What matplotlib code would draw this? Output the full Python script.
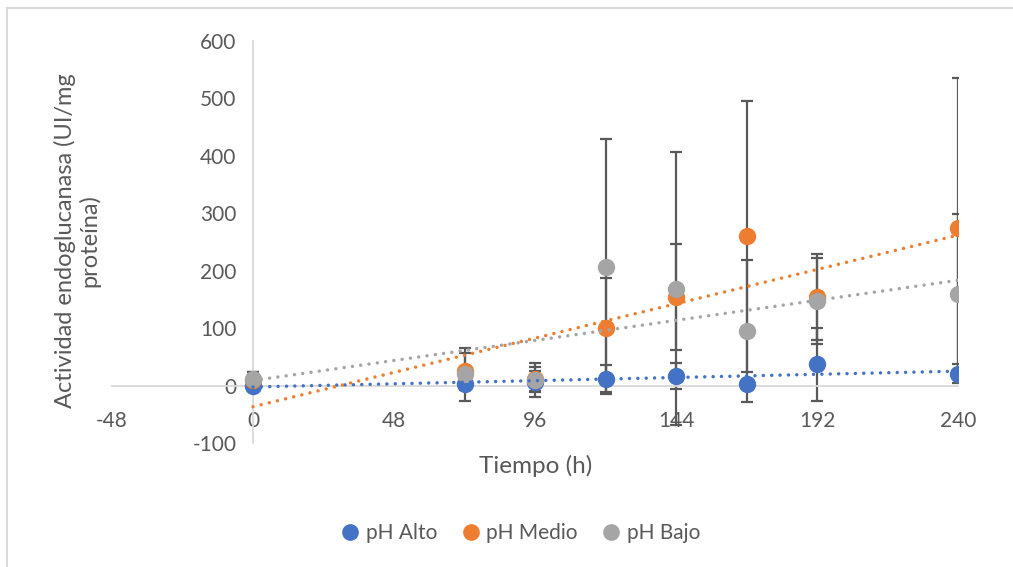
import numpy as np
import matplotlib.pyplot as plt
from matplotlib.lines import Line2D

plt.rcParams['font.family'] = ['Lato', 'DejaVu Sans']
plt.rcParams['axes.unicode_minus'] = False

# tiempo de muestreo (h)
tiempo = [0, 72, 96, 120, 144, 168, 192, 240]

# actividad media y desviacion por tratamiento
alto = [0, 3, 7, 12, 17, 2, 37, 21]
alto_err = [3, 5, 19, 24, 23, 3, 63, 17]
medio = [10, 25, 12, 100, 154, 260, 154, 275]
medio_err = [14, 32, 21, 88, 92, 236, 75, 260]
bajo = [12, 20, 10, 207, 169, 95, 148, 160]
bajo_err = [12, 46, 30, 222, 238, 123, 75, 138]

series = ["pH Alto", "pH Medio", "pH Bajo"]
colores = ["#4472C4", "#ED7D31", "#A5A5A5"]
xticks = [-48, 0, 48, 96, 144, 192, 240]
yticks = [-100, 0, 100, 200, 300, 400, 500, 600]

W, H = 1013, 567
fig = plt.figure(figsize=(W / 100, H / 100), dpi=100)
ax = fig.add_axes([112 / W, 1 - 443 / H, (958 - 112) / W, (443 - 41) / H])

x = np.array(tiempo)
for y, e in zip([alto, medio, bajo], [alto_err, medio_err, bajo_err]):
    ax.errorbar(x, y, yerr=e, fmt='none', ecolor='#595959', elinewidth=1.6,
                capsize=4.5, capthick=1.6, zorder=2)
for y, c, z in zip([alto, medio, bajo], colores, [3, 4, 5]):
    m, b = np.polyfit(x, y, 1)
    ax.plot([x.min(), x.max()], [m * x.min() + b, m * x.max() + b], color=c,
            lw=2.5, linestyle=(0, (0.01, 2.4)), dash_capstyle='round', zorder=z + 3)
    ax.plot(x, y, 'o', color=c, ms=11.5, zorder=z)

ax.set_xlim(-48, 240)
ax.set_ylim(-100, 600)
ax.set_xticks(xticks)
ax.set_yticks(yticks)
ax.spines['left'].set_position(('data', 0))
ax.spines['bottom'].set_position(('data', 0))
ax.spines['top'].set_visible(False)
ax.spines['right'].set_visible(False)
for s in ['left', 'bottom']:
    ax.spines[s].set_color('#D9D9D9')
    ax.spines[s].set_linewidth(1.3)
ax.tick_params(length=0, labelsize=15, labelcolor='#595959')
ax.tick_params(axis='x', pad=18)
ax.tick_params(axis='y', pad=12)
ax.patch.set_visible(False)

fig.text(536 / W, 1 - 466 / H, "Tiempo (h)", ha='center', va='center',
         fontsize=17.5, color='#595959')
fig.text(77 / W, 1 - 241 / H, "Actividad endoglucanasa (UI/mg\nproteína)",
         ha='center', va='center', rotation=90, fontsize=17, color='#595959',
         linespacing=1.15)

handles = [Line2D([], [], marker='o', linestyle='none', color=c, ms=11) for c in colores]
fig.legend(handles, series, loc='center', bbox_to_anchor=(520 / W, 1 - 533 / H),
           ncol=3, frameon=False, fontsize=15, labelcolor='#595959',
           handlelength=1.0, handletextpad=0.25, columnspacing=1.1)

# marco del grafico
fig.add_artist(Line2D([7 / W, 7 / W], [0, 1 - 8 / H], color='#D9D9D9', lw=1.5))
fig.add_artist(Line2D([7 / W, 1], [1 - 8 / H, 1 - 8 / H], color='#D9D9D9', lw=1.5))

fig.savefig("out.png", dpi=100, facecolor='white')
